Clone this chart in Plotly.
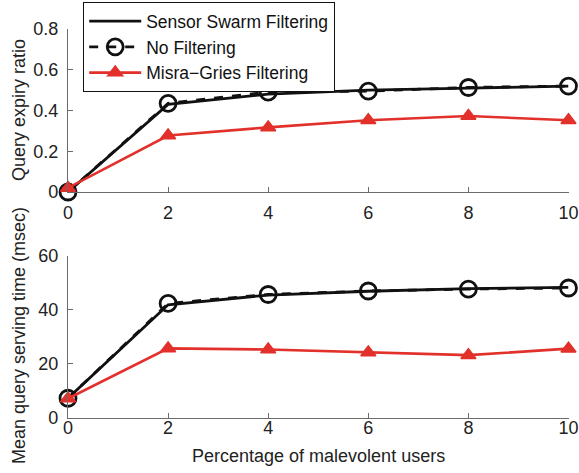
import plotly.graph_objects as go

x_vals = [0, 2, 4, 6, 8, 10]
x_ticks = [0, 2, 4, 6, 8, 10]

series_names = ["Sensor Swarm Filtering", "No Filtering", "Misra\u2212Gries Filtering"]

# Top panel: query expiry ratio
expiry_sensor = [0.0, 0.43, 0.48, 0.50, 0.51, 0.52]
expiry_none = [0.0, 0.435, 0.49, 0.495, 0.513, 0.52]
expiry_misra = [0.02, 0.277, 0.317, 0.352, 0.373, 0.352]
expiry_ticks = [0, 0.2, 0.4, 0.6, 0.8]

# Bottom panel: mean query serving time (msec)
serving_sensor = [7.3, 41.8, 45.4, 46.8, 47.8, 48.2]
serving_none = [7.3, 42.3, 45.6, 46.9, 47.6, 48.0]
serving_misra = [7.2, 25.7, 25.3, 24.2, 23.2, 25.6]
serving_ticks = [0, 20, 40, 60]

BLACK = "#111111"
RED = "#e2302a"
AXIS = "#6b6b6b"
FONT = "Liberation Sans, Arial, sans-serif"

fig = go.Figure()

def add_panel(sensor, none, misra, xa, xa_red, ya, show):
    fig.add_trace(go.Scatter(x=x_vals, y=sensor, mode="lines", name=series_names[0],
                             line=dict(color=BLACK, width=2.8), xaxis=xa, yaxis=ya,
                             showlegend=show, cliponaxis=False))
    fig.add_trace(go.Scatter(x=x_vals, y=none, mode="lines+markers", name=series_names[1],
                             line=dict(color=BLACK, width=2.8, dash="dash"),
                             marker=dict(symbol="circle-open", size=16, color=BLACK,
                                         line=dict(width=2.8, color=BLACK)),
                             xaxis=xa, yaxis=ya, showlegend=show, cliponaxis=False))
    fig.add_trace(go.Scatter(x=x_vals, y=misra, mode="lines+markers", name=series_names[2],
                             line=dict(color=RED, width=2.6),
                             marker=dict(symbol="triangle-up", size=13, color=RED,
                                         line=dict(width=1.5, color=RED)),
                             xaxis=xa_red, yaxis=ya, showlegend=show, cliponaxis=False))

add_panel(expiry_sensor, expiry_none, expiry_misra, "x", "x", "y", True)
add_panel(serving_sensor, serving_none, serving_misra, "x2", "x3", "y2", False)

xdom = [68 / 579, 568.5 / 579]
top_dom = [1 - 192 / 473, 1 - 29 / 473]
bot_dom = [1 - 418 / 473, 1 - 255.5 / 473]

tickfont = dict(size=18, color="#222222", family=FONT)
common_x = dict(range=[0, 10], tickvals=x_ticks, ticks="inside", ticklen=5, tickcolor=AXIS,
                showline=True, linecolor=AXIS, linewidth=1.3, showgrid=False, zeroline=False,
                automargin=False, tickfont=tickfont)
common_y = dict(ticks="inside", ticklen=5, tickcolor=AXIS, showline=True, linecolor=AXIS,
                linewidth=1.3, showgrid=False, zeroline=False, automargin=False,
                ticklabelstandoff=5, tickfont=tickfont)

fig.update_layout(
    width=579, height=473,
    margin=dict(l=0, r=0, t=0, b=0, autoexpand=False),
    paper_bgcolor="white", plot_bgcolor="white",
    font=dict(family=FONT, size=18, color="#222222"),
    xaxis=dict(domain=xdom, anchor="y", ticklabelstandoff=4, **common_x),
    yaxis=dict(domain=top_dom, anchor="x", range=[0, 0.8], tickvals=expiry_ticks, **common_y),
    xaxis2=dict(domain=xdom, anchor="y2", showticklabels=False, **common_x),
    # tick-label carrier for the bottom panel, sitting slightly closer to the axis line
    xaxis3=dict(overlaying="x2", anchor="free", position=1 - 415 / 473, range=[0, 10],
                tickvals=x_ticks, ticks="", showline=False, showgrid=False, zeroline=False,
                automargin=False, tickfont=tickfont, side="bottom"),
    yaxis2=dict(domain=bot_dom, anchor="x2", range=[0, 60], tickvals=serving_ticks, **common_y),
    legend=dict(x=83 / 579, y=1 - 2 / 473, xanchor="left", yanchor="top",
                bordercolor="#111111", borderwidth=1.2, bgcolor="white",
                font=dict(size=17.5, color="#111111", family=FONT),
                itemwidth=52, tracegroupgap=0),
    showlegend=True,
    annotations=[
        dict(text="Query expiry ratio", x=19 / 579, y=1 - 110 / 473,
             xref="paper", yref="paper", textangle=-90, showarrow=False,
             xanchor="center", yanchor="middle",
             font=dict(size=18, color="#222222", family=FONT)),
        dict(text="Mean query serving time (msec)", x=19 / 579, y=1 - 336 / 473,
             xref="paper", yref="paper", textangle=-90, showarrow=False,
             xanchor="center", yanchor="middle",
             font=dict(size=18, color="#222222", family=FONT)),
        dict(text="Percentage of malevolent users", x=(xdom[0] + xdom[1]) / 2, y=1 - 456 / 473,
             xref="paper", yref="paper", showarrow=False,
             xanchor="center", yanchor="middle",
             font=dict(size=18, color="#222222", family=FONT)),
    ],
)

fig.write_html("out.html")
